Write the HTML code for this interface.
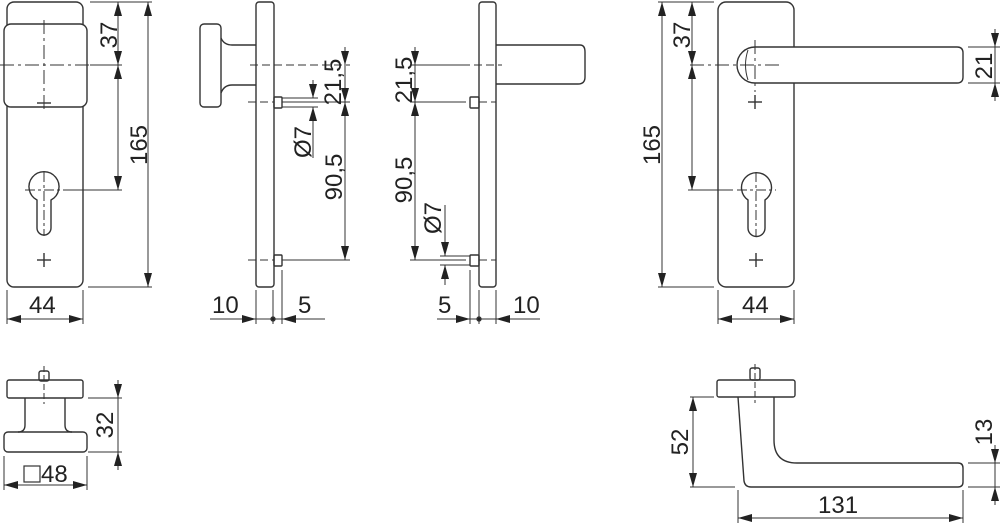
<!DOCTYPE html>
<html><head><meta charset="utf-8"><style>
html,body{margin:0;padding:0;background:#fff;}
svg{display:block;}
text{font-family:"Liberation Sans",sans-serif;font-size:24px;fill:#222;}
</style></head><body>
<svg width="1000" height="523" viewBox="0 0 1000 523" xmlns="http://www.w3.org/2000/svg">
<defs>
<marker id="a" markerUnits="userSpaceOnUse" markerWidth="15" markerHeight="8" refX="14" refY="4" orient="auto-start-reverse"><path d="M0,0 L14,4 L0,8 z" fill="#222"/></marker>
</defs>
<g fill="none" stroke="#333" stroke-width="1.4">
<!-- ===== Left front view ===== -->
<rect x="7" y="2" width="76" height="285" rx="7"/>
<rect x="4" y="24" width="83" height="83" rx="7" fill="#fff"/>
<g stroke-dasharray="14,4,3,4" stroke-width="1"><line x1="0" y1="65" x2="90" y2="65"/><line x1="44" y1="20" x2="44" y2="112"/></g>
<line x1="37" y1="103" x2="51" y2="103"/>
<path d="M37,200 A15,15 0 1 1 51,200 L51,228 A7,7 0 0 1 37,228 Z"/>
<g stroke-dasharray="10,3,3,3" stroke-width="1"><line x1="25" y1="190" x2="66" y2="190"/><line x1="44" y1="172" x2="44" y2="236"/></g>
<line x1="37" y1="260" x2="51" y2="260"/><line x1="44" y1="253" x2="44" y2="267"/>
<g stroke-width="1">
<line x1="66" y1="190" x2="122" y2="190"/><line x1="90" y1="65" x2="122" y2="65"/>
<line x1="90" y1="2" x2="152" y2="2"/><line x1="88" y1="287" x2="152" y2="287"/>
<line x1="118" y1="2" x2="118" y2="65" marker-start="url(#a)" marker-end="url(#a)"/>
<line x1="118" y1="65" x2="118" y2="190" marker-start="url(#a)" marker-end="url(#a)"/>
<line x1="148" y1="2" x2="148" y2="287" marker-start="url(#a)" marker-end="url(#a)"/>
<line x1="7" y1="290" x2="7" y2="324"/><line x1="83" y1="290" x2="83" y2="324"/>
<line x1="7" y1="319" x2="83" y2="319" marker-start="url(#a)" marker-end="url(#a)"/>
</g>
<!-- ===== Side view 1 ===== -->
<rect x="256" y="2" width="18" height="285" rx="3"/>
<rect x="200" y="24" width="21" height="83" rx="4"/>
<path d="M221,38 Q224,45 232,45 L256,45"/><path d="M221,93 Q224,85 232,85 L256,85"/>
<rect x="274" y="97" width="8" height="11" rx="1"/>
<rect x="274" y="255" width="8" height="11" rx="1"/>
<g stroke-width="1">
<line x1="250" y1="65" x2="350" y2="65" stroke-dasharray="8,4"/>
<line x1="248" y1="102" x2="274" y2="102" stroke-dasharray="8,4"/>
<line x1="282" y1="102" x2="350" y2="102"/>
<line x1="248" y1="260" x2="274" y2="260" stroke-dasharray="8,4"/>
<line x1="282" y1="260" x2="350" y2="260"/>
<line x1="282" y1="98" x2="318" y2="98"/><line x1="282" y1="107" x2="318" y2="107"/>
<line x1="313" y1="80" x2="313" y2="98" marker-end="url(#a)"/>
<line x1="313" y1="158" x2="313" y2="107" marker-end="url(#a)"/>
<line x1="345" y1="47" x2="345" y2="65" marker-end="url(#a)"/>
<line x1="345" y1="65" x2="345" y2="102" marker-end="url(#a)"/>
<line x1="345" y1="102" x2="345" y2="260" marker-start="url(#a)" marker-end="url(#a)"/>
<line x1="256" y1="290" x2="256" y2="324"/><line x1="273" y1="290" x2="273" y2="324"/><line x1="282" y1="270" x2="282" y2="324"/>
<line x1="210" y1="319" x2="256" y2="319" marker-end="url(#a)"/>
<line x1="256" y1="319" x2="282" y2="319"/>
<line x1="325" y1="319" x2="282" y2="319" marker-end="url(#a)"/>
</g>
<circle cx="273" cy="319" r="2" fill="#222"/>
<!-- ===== Side view 2 ===== -->
<rect x="479" y="2" width="17" height="285" rx="3"/>
<path d="M496,45 L580,45 Q585,45 585,52 L585,77 Q585,84 578,84 L496,84"/>
<rect x="470" y="97" width="9" height="11" rx="1"/>
<rect x="470" y="255" width="9" height="11" rx="1"/>
<g stroke-width="1">
<line x1="410" y1="65" x2="470" y2="65"/><line x1="474" y1="65" x2="502" y2="65" stroke-dasharray="8,4"/>
<line x1="410" y1="102" x2="466" y2="102"/><line x1="479" y1="102" x2="496" y2="102" stroke-dasharray="8,4"/>
<line x1="410" y1="260" x2="466" y2="260"/><line x1="479" y1="260" x2="496" y2="260" stroke-dasharray="8,4"/>
<line x1="440" y1="256" x2="470" y2="256"/><line x1="440" y1="265" x2="470" y2="265"/>
<line x1="445" y1="205" x2="445" y2="256" marker-end="url(#a)"/>
<line x1="445" y1="285" x2="445" y2="265" marker-end="url(#a)"/>
<line x1="415" y1="47" x2="415" y2="65" marker-end="url(#a)"/>
<line x1="415" y1="65" x2="415" y2="102" marker-end="url(#a)"/>
<line x1="415" y1="102" x2="415" y2="260" marker-start="url(#a)" marker-end="url(#a)"/>
<line x1="470" y1="270" x2="470" y2="324"/><line x1="479" y1="290" x2="479" y2="324"/><line x1="496" y1="290" x2="496" y2="324"/>
<line x1="437" y1="319" x2="470" y2="319" marker-end="url(#a)"/>
<line x1="470" y1="319" x2="496" y2="319"/>
<line x1="540" y1="319" x2="496" y2="319" marker-end="url(#a)"/>
</g>
<circle cx="479" cy="319" r="2" fill="#222"/>
<!-- ===== Right front view ===== -->
<rect x="718" y="2" width="76" height="285" rx="8"/>
<path d="M755,47 A18,18 0 0 0 755,83" fill="#fff"/>
<path d="M755,47 L957,47 Q963,47 963,53 L963,77 Q963,83 957,83 L755,83" fill="#fff"/>
<path d="M748,50 Q743,65 748,80" stroke-width="1"/>
<g stroke-dasharray="14,4,3,4" stroke-width="1"><line x1="690" y1="65" x2="780" y2="65"/><line x1="755" y1="40" x2="755" y2="92"/></g>
<line x1="748" y1="102" x2="762" y2="102"/><line x1="755" y1="95" x2="755" y2="109"/>
<path d="M748,200 A15,15 0 1 1 765,200 L765,228 A8.5,8.5 0 0 1 748,228 Z"/>
<g stroke-dasharray="10,3,3,3" stroke-width="1"><line x1="737" y1="190" x2="776" y2="190"/><line x1="756" y1="172" x2="756" y2="236"/></g>
<line x1="749" y1="260" x2="763" y2="260"/><line x1="756" y1="253" x2="756" y2="267"/>
<g stroke-width="1">
<line x1="688" y1="190" x2="733" y2="190"/>
<line x1="658" y1="2" x2="714" y2="2"/><line x1="658" y1="287" x2="714" y2="287"/>
<line x1="662" y1="2" x2="662" y2="287" marker-start="url(#a)" marker-end="url(#a)"/>
<line x1="692" y1="2" x2="692" y2="65" marker-start="url(#a)" marker-end="url(#a)"/>
<line x1="692" y1="65" x2="692" y2="190" marker-start="url(#a)" marker-end="url(#a)"/>
<line x1="718" y1="290" x2="718" y2="324"/><line x1="794" y1="290" x2="794" y2="324"/>
<line x1="718" y1="319" x2="794" y2="319" marker-start="url(#a)" marker-end="url(#a)"/>
<line x1="968" y1="47" x2="1000" y2="47"/><line x1="968" y1="83" x2="1000" y2="83"/>
<line x1="995" y1="29" x2="995" y2="47" marker-end="url(#a)"/>
<line x1="995" y1="101" x2="995" y2="83" marker-end="url(#a)"/>
<line x1="995" y1="47" x2="995" y2="83"/>
</g>
<!-- ===== Bottom left knob ===== -->
<rect x="39" y="371" width="10" height="10" rx="2"/>
<rect x="7" y="380" width="76" height="18" rx="2"/>
<path d="M25,398 L25,425 Q25,432 18,432"/><path d="M65,398 L65,425 Q65,432 72,432"/>
<rect x="4" y="432" width="83" height="20" rx="4"/>
<line x1="44" y1="366" x2="44" y2="404" stroke-dasharray="6,3" stroke-width="1"/>
<g stroke-width="1">
<line x1="88" y1="398" x2="122" y2="398"/><line x1="88" y1="452" x2="122" y2="452"/>
<line x1="118" y1="380" x2="118" y2="398" marker-end="url(#a)"/>
<line x1="118" y1="470" x2="118" y2="452" marker-end="url(#a)"/>
<line x1="118" y1="398" x2="118" y2="452"/>
<line x1="4" y1="456" x2="4" y2="490"/><line x1="87" y1="456" x2="87" y2="490"/>
<line x1="4" y1="485" x2="87" y2="485" marker-start="url(#a)" marker-end="url(#a)"/>
</g>
<rect x="24" y="466" width="16" height="16" stroke-width="1.2"/>
<!-- ===== Bottom right lever ===== -->
<rect x="750" y="368" width="10" height="12" rx="2"/>
<rect x="717" y="380" width="78" height="17" rx="2"/>
<path d="M738,397 L744,481 Q745,487 751,487 L958,487 Q963,487 963,482 L963,468 Q963,463 958,463 L797,463 Q774,463 774,440 L774,397"/>
<line x1="755" y1="364" x2="755" y2="403" stroke-dasharray="6,3" stroke-width="1"/>
<g stroke-width="1">
<line x1="690" y1="397" x2="714" y2="397"/><line x1="690" y1="487" x2="735" y2="487"/>
<line x1="693" y1="397" x2="693" y2="487" marker-start="url(#a)" marker-end="url(#a)"/>
<line x1="738" y1="490" x2="738" y2="523"/><line x1="963" y1="490" x2="963" y2="523"/>
<line x1="738" y1="518" x2="963" y2="518" marker-start="url(#a)" marker-end="url(#a)"/>
<line x1="968" y1="463" x2="1000" y2="463"/><line x1="968" y1="487" x2="1000" y2="487"/>
<line x1="995" y1="445" x2="995" y2="463" marker-end="url(#a)"/>
<line x1="995" y1="505" x2="995" y2="487" marker-end="url(#a)"/>
<line x1="995" y1="463" x2="995" y2="487"/>
</g>
</g>
<!-- labels -->
<text x="29" y="313">44</text>
<text transform="translate(117,35) rotate(-90)" text-anchor="middle">37</text>
<text transform="translate(147,145) rotate(-90)" text-anchor="middle">165</text>
<text x="212" y="313">10</text>
<text x="298" y="313">5</text>
<text transform="translate(341,82) rotate(-90)" text-anchor="middle">21,5</text>
<text transform="translate(311,142) rotate(-90)" text-anchor="middle">Ø7</text>
<text transform="translate(342,177) rotate(-90)" text-anchor="middle">90,5</text>
<text transform="translate(412,80) rotate(-90)" text-anchor="middle">21,5</text>
<text transform="translate(412,180) rotate(-90)" text-anchor="middle">90,5</text>
<text transform="translate(441,218) rotate(-90)" text-anchor="middle">Ø7</text>
<text x="438" y="313">5</text>
<text x="513" y="313">10</text>
<text transform="translate(660,145) rotate(-90)" text-anchor="middle">165</text>
<text transform="translate(690,35) rotate(-90)" text-anchor="middle">37</text>
<text x="742" y="313">44</text>
<text transform="translate(992,66) rotate(-90)" text-anchor="middle">21</text>
<text transform="translate(113,425) rotate(-90)" text-anchor="middle">32</text>
<text x="41" y="482">48</text>
<text transform="translate(688,442) rotate(-90)" text-anchor="middle">52</text>
<text x="818" y="513">131</text>
<text transform="translate(992,432) rotate(-90)" text-anchor="middle">13</text>
</svg>
</body></html>
